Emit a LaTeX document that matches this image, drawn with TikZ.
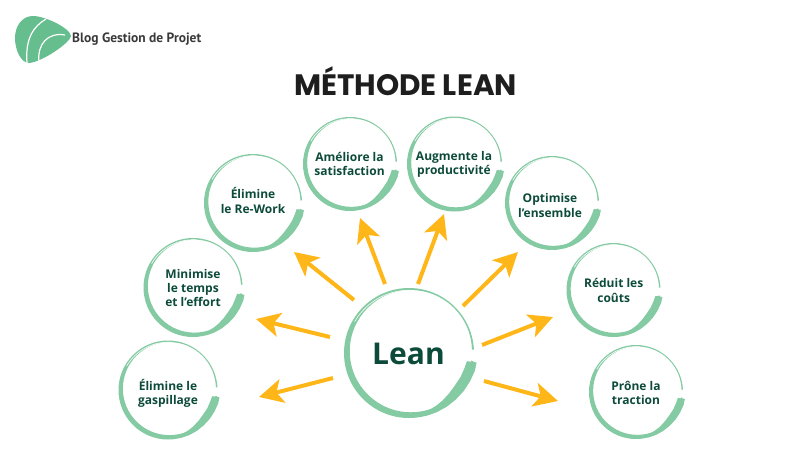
\documentclass[tikz,border=0pt]{standalone}
\usepackage{fontspec}
\setmainfont{Open Sans}
\newfontfamily\titlefont{Poppins}[BoldFont={Poppins Bold}]
\newfontfamily\logofont{PT Sans}
\usetikzlibrary{arrows.meta,calc}
\definecolor{ringgreen}{HTML}{84CAA2}
\definecolor{logogreen}{HTML}{66BD8E}
\definecolor{textgreen}{HTML}{0C4A3A}
\definecolor{arrowgold}{HTML}{FFB618}
\definecolor{inkdark}{HTML}{1E1E1E}
\definecolor{logoink}{HTML}{3A3A3A}
\tikzset{
  labeltext/.style={inner sep=0pt,align=center,text=textgreen,font=\fontsize{12}{14.2}\selectfont\bfseries},
  leantext/.style={inner sep=0pt,text=textgreen,font=\fontsize{30}{34}\selectfont\bfseries},
  arrowline/.style={draw=arrowgold,line width=4pt,-{Stealth[length=24pt,width=24pt,inset=6pt,fill=arrowgold]}},
  ringshape/.style={fill=ringgreen,draw=none},
  streak/.style={draw=white,line width=.6pt},
}
% #1 centre x, #2 centre y, #3 radius
\newcommand{\brushring}[3]{%
  \begin{scope}[shift={(#1,#2)},scale=#3]
    \fill[ringshape,even odd rule] (0:1pt) arc[start angle=0,end angle=360,radius=1pt]
       ($(45:.04pt)+(0:.94pt)$) arc[start angle=0,end angle=360,radius=.94pt];
    \fill[white] (0,0) -- (353:1.1pt) -- (3:1.1pt) -- cycle;
    \fill[ringshape] (352:1.05pt) -- (345:1.05pt) -- (335:1.035pt) -- (325:1.025pt) -- (315:1.015pt)
       -- (305:1.01pt) -- (295:1.005pt) -- (285:1pt)
       -- (280:.94pt) -- (290:.93pt) -- (298:.91pt) -- (305:.895pt) -- (315:.875pt)
       -- (325:.865pt) -- (335:.875pt) -- (345:.885pt) -- (352:.9pt) -- cycle;
    \draw[streak] (150:.965pt) arc[start angle=150,end angle=85,radius=.965pt];
  \end{scope}}
\begin{document}
\begin{tikzpicture}[x=1pt,y=-1pt]
  \useasboundingbox (0,0) rectangle (811,456);
  % logo
  \fill[logogreen] (15,38) .. controls (15,26) and (22,16) .. (33,16)
     .. controls (45,16) and (70,28) .. (71,36)
     .. controls (70,43) and (42,62) .. (29,63)
     .. controls (21,63) and (15,50) .. (15,38) -- cycle;
  \draw[white,line width=1.2pt] (46,19) .. controls (34,26) and (25,38) .. (27,63);
  \draw[white,line width=1.2pt] (65,35) .. controls (48,32) and (37,44) .. (39,62);
  \node[inner sep=0pt,anchor=west,text=logoink,font=\logofont\fontsize{13.5}{16}\selectfont\bfseries] (logotext) at (72,39) {Blog Gestion de Projet};
  % title
  \node[inner sep=0pt,text=inkdark,font=\titlefont\fontsize{29.5}{32}\selectfont\bfseries] (title) at (405.5,81) {MÉTHODE LEAN};
  % rings
  \brushring{409}{353}{65}
  \brushring{168}{390}{49.5}
  \brushring{193}{287.5}{49.5}
  \brushring{253}{203}{49}
  \brushring{350}{164}{47}
  \brushring{454.5}{164}{47.5}
  \brushring{552}{203}{47}
  \brushring{613.5}{290}{47}
  \brushring{636}{392}{47}
  % labels
  \node[leantext] (lean) at (408.5,354) {Lean};
  \node[labeltext] (gaspi) at (168,393) {Élimine le\\gaspillage};
  \node[labeltext] (temps) at (193,288) {Minimise\\le temps\\et l’effort};
  \node[labeltext] (rework) at (253,200.5) {Élimine\\le Re-Work};
  \node[labeltext] (satis) at (349.5,164) {Améliore la\\satisfaction};
  \node[labeltext] (prod) at (454,164) {Augmente la\\productivité};
  \node[labeltext] (ens) at (550,205.5) {Optimise\\l’ensemble};
  \node[labeltext] (couts) at (613.7,290.5) {Réduit les\\coûts};
  \node[labeltext] (traction) at (636,393) {Prône la\\traction};
  % arrow ends
  \coordinate (s1) at (333,378); \coordinate (t1) at (259,397);
  \coordinate (s2) at (330,337); \coordinate (t2) at (256,319);
  \coordinate (s3) at (354,300); \coordinate (t3) at (294,252);
  \coordinate (s4) at (385,284); \coordinate (t4) at (360,218);
  \coordinate (s5) at (418,284); \coordinate (t5) at (444,214);
  \coordinate (s6) at (463,306); \coordinate (t6) at (518,252);
  \coordinate (s7) at (482,345); \coordinate (t7) at (553,317);
  \coordinate (s8) at (484,381); \coordinate (t8) at (558,401);
  \foreach \i in {1,...,8} \draw[arrowline] (s\i) -- (t\i);
\end{tikzpicture}
\end{document}
